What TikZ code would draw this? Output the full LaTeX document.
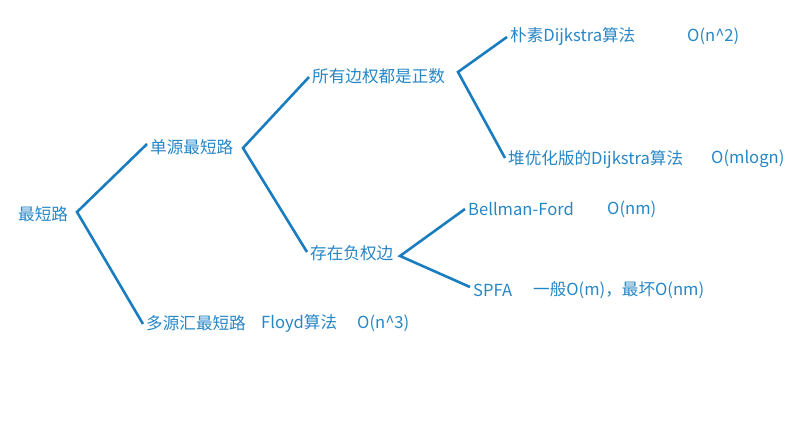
\documentclass[tikz,border=0pt]{standalone}
\usepackage{fontspec}
\setmainfont{Noto Sans CJK SC}
\definecolor{txtblue}{HTML}{2686C6}
\definecolor{lineblue}{HTML}{1A7DC0}
\begin{document}
\begin{tikzpicture}[x=1pt,y=-1pt,
  lbl/.style={anchor=west,inner sep=3pt,text=txtblue,font=\fontsize{16.6}{19}\selectfont},
  branch/.style={draw=lineblue,line width=2.6pt,line join=miter}]
\useasboundingbox (0,0) rectangle (795,427);
% text nodes
\node[lbl] (root) at (15,214) {最短路};
\node[lbl] (single) at (147,147) {单源最短路};
\node[lbl] (multi) at (143,323) {多源汇最短路};
\node[lbl] (floyd) at (258,323) {Floyd算法};
\node[lbl] (floydc) at (354,323) {O(n\textasciicircum 3)};
\node[lbl] (pos) at (309,76) {所有边权都是正数};
\node[lbl] (neg) at (307,253) {存在负权边};
\node[lbl] (naive) at (507,36) {朴素Dijkstra算法};
\node[lbl] (naivec) at (684,36) {O(n\textasciicircum 2)};
\node[lbl] (heap) at (505,159) {堆优化版的Dijkstra算法};
\node[lbl] (heapc) at (708,159) {O(mlogn)};
\node[lbl] (bf) at (465,209) {Bellman-Ford};
\node[lbl] (bfc) at (604,209) {O(nm)};
\node[lbl] (spfa) at (470,290) {SPFA};
\node[lbl] (spfac) at (530,290) {一般O(m)，最坏O(nm)};
% junctions
\coordinate (j0) at (77,212);
\coordinate (j1) at (243,148);
\coordinate (j2) at (458,72);
\coordinate (j3) at (400,256);
% branches
\draw[branch] ([yshift=3pt]single.west) -- (j0) -- ([yshift=-1pt]multi.west);
\draw[branch] ([yshift=-1pt]pos.west) -- (j1) -- ([yshift=1pt]neg.west);
\draw[branch] ([yshift=-1pt]naive.west) -- (j2) -- ([yshift=1pt]heap.west);
\draw[branch] (bf.west) -- (j3) -- ([yshift=3pt]spfa.west);
\end{tikzpicture}
\end{document}
